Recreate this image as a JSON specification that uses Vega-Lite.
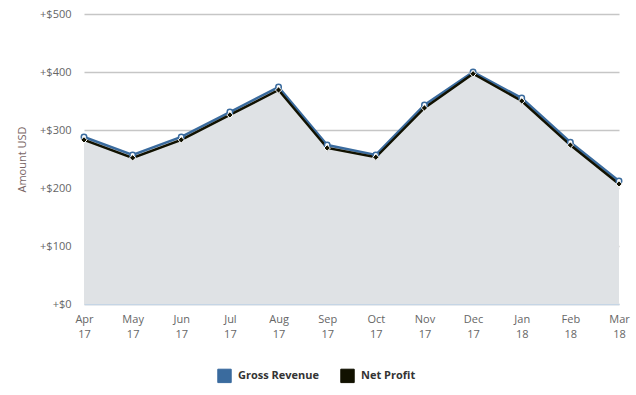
{
  "$schema": "https://vega.github.io/schema/vega-lite/v6.json",
  "width": 535,
  "height": 290,
  "autosize": {"type": "none"},
  "padding": {"left": 84, "top": 14, "right": 17, "bottom": 91},
  "background": "white",
  "config": {
    "font": "Open Sans",
    "view": {"stroke": null},
    "axis": {"labelFont": "Open Sans", "titleFont": "Open Sans"}
  },
  "data": {
    "values": [
      {"month": "Apr 17", "series": "Gross Revenue", "value": 288},
      {"month": "May 17", "series": "Gross Revenue", "value": 257},
      {"month": "Jun 17", "series": "Gross Revenue", "value": 288},
      {"month": "Jul 17", "series": "Gross Revenue", "value": 331},
      {"month": "Aug 17", "series": "Gross Revenue", "value": 374},
      {"month": "Sep 17", "series": "Gross Revenue", "value": 274},
      {"month": "Oct 17", "series": "Gross Revenue", "value": 257},
      {"month": "Nov 17", "series": "Gross Revenue", "value": 343},
      {"month": "Dec 17", "series": "Gross Revenue", "value": 400},
      {"month": "Jan 18", "series": "Gross Revenue", "value": 355},
      {"month": "Feb 18", "series": "Gross Revenue", "value": 279},
      {"month": "Mar 18", "series": "Gross Revenue", "value": 212},
      {"month": "Apr 17", "series": "Net Profit", "value": 283},
      {"month": "May 17", "series": "Net Profit", "value": 252},
      {"month": "Jun 17", "series": "Net Profit", "value": 283},
      {"month": "Jul 17", "series": "Net Profit", "value": 326},
      {"month": "Aug 17", "series": "Net Profit", "value": 369},
      {"month": "Sep 17", "series": "Net Profit", "value": 269},
      {"month": "Oct 17", "series": "Net Profit", "value": 253},
      {"month": "Nov 17", "series": "Net Profit", "value": 338},
      {"month": "Dec 17", "series": "Net Profit", "value": 397},
      {"month": "Jan 18", "series": "Net Profit", "value": 350},
      {"month": "Feb 18", "series": "Net Profit", "value": 274},
      {"month": "Mar 18", "series": "Net Profit", "value": 207}
    ]
  },
  "encoding": {
    "x": {
      "field": "month",
      "type": "ordinal",
      "sort": null,
      "scale": {"type": "point", "padding": 0},
      "axis": {
        "title": null,
        "labelAngle": 0,
        "labelExpr": "split(datum.label, ' ')",
        "labelColor": "#666666",
        "labelFontSize": 11,
        "labelPadding": 9,
        "labelLineHeight": 15,
        "ticks": false,
        "domainColor": "#c5d5e5",
        "domainWidth": 1.5,
        "grid": false
      }
    },
    "y": {
      "field": "value",
      "type": "quantitative",
      "scale": {"domain": [0, 500]},
      "axis": {
        "title": "Amount USD",
        "titleColor": "#7a6666",
        "titleFontSize": 11,
        "titleFontWeight": "normal",
        "titlePadding": 12,
        "values": [0, 100, 200, 300, 400, 500],
        "labelExpr": "'+$' + datum.value",
        "labelColor": "#666666",
        "labelFontSize": 11,
        "labelPadding": 13,
        "ticks": false,
        "domain": false,
        "gridColor": "#c6c6c6",
        "gridWidth": 1.3
      }
    }
  },
  "layer": [
    {
      "transform": [{"filter": "datum.series == 'Gross Revenue'"}],
      "mark": {"type": "area", "color": "#dfe2e5"}
    },
    {
      "mark": {"type": "line", "strokeWidth": 2.5},
      "encoding": {
        "color": {
          "field": "series",
          "type": "nominal",
          "scale": {"domain": ["Gross Revenue", "Net Profit"], "range": ["#3a6b9e", "#111100"]},
          "legend": {
            "title": null,
            "orient": "none",
            "legendX": 133,
            "legendY": 354,
            "direction": "horizontal",
            "symbolType": "square",
            "symbolSize": 180,
            "symbolStrokeWidth": 1,
            "symbolOpacity": 1,
            "labelFont": "Open Sans",
            "labelFontSize": 11,
            "labelFontWeight": "bold",
            "labelColor": "#333333",
            "columnPadding": 18,
            "labelOffset": 6,
            "encode": {
              "symbols": {
                "update": {
                  "fill": {"scale": "color", "field": "value"},
                  "fillOpacity": {"value": 1}
                }
              }
            }
          }
        }
      }
    },
    {
      "transform": [{"filter": "datum.series == 'Gross Revenue'"}],
      "mark": {"type": "point", "filled": true, "fill": "white", "stroke": "#3a6b9e", "strokeWidth": 1.5, "size": 30, "opacity": 1}
    },
    {
      "transform": [{"filter": "datum.series == 'Net Profit'"}],
      "mark": {"type": "point", "shape": "diamond", "filled": true, "fill": "#111100", "stroke": "white", "strokeWidth": 1, "size": 40, "opacity": 1}
    }
  ]
}
